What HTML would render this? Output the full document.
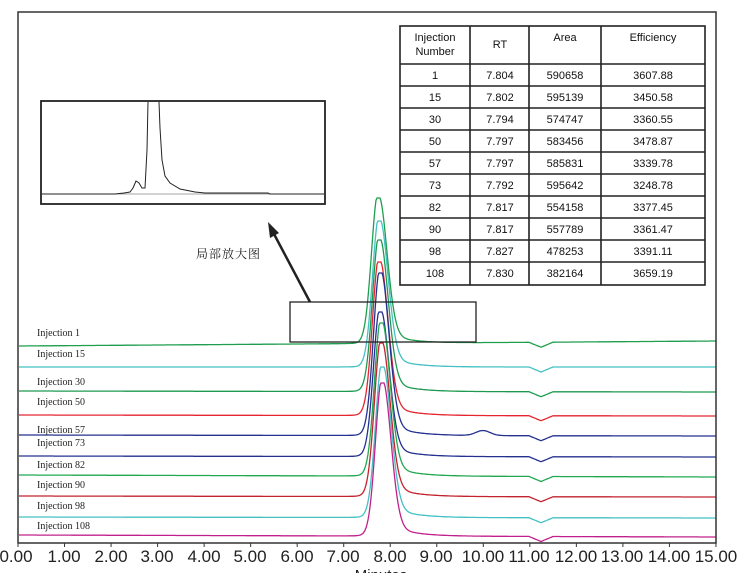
<!DOCTYPE html>
<html><head><meta charset="utf-8"><style>
html,body{margin:0;padding:0;background:#fff;width:747px;height:573px;overflow:hidden}
svg{display:block}
text{font-family:"Liberation Sans",Arial,sans-serif}
.lab{font-family:"Liberation Serif",serif;font-size:10px;fill:#222}
.tk{font-size:17px;fill:#222}
.tb{font-size:11px;fill:#111}
</style></head><body>
<svg id="s" width="747" height="573" viewBox="0 0 747 573" xmlns="http://www.w3.org/2000/svg">
<g id="traces"></g>
<path d="M18,12 H716 V543 H18 Z" fill="none" stroke="#333" stroke-width="1.5"/>
<g id="ticks"></g>
<text class="tk" x="16" y="562" text-anchor="middle">0.00</text>
<text class="tk" x="64" y="562" text-anchor="middle">1.00</text>
<text class="tk" x="111" y="562" text-anchor="middle">2.00</text>
<text class="tk" x="157" y="562" text-anchor="middle">3.00</text>
<text class="tk" x="204" y="562" text-anchor="middle">4.00</text>
<text class="tk" x="250" y="562" text-anchor="middle">5.00</text>
<text class="tk" x="297" y="562" text-anchor="middle">6.00</text>
<text class="tk" x="343" y="562" text-anchor="middle">7.00</text>
<text class="tk" x="390" y="562" text-anchor="middle">8.00</text>
<text class="tk" x="436" y="562" text-anchor="middle">9.00</text>
<text class="tk" x="483" y="562" text-anchor="middle">10.00</text>
<text class="tk" x="529" y="562" text-anchor="middle">11.00</text>
<text class="tk" x="576" y="562" text-anchor="middle">12.00</text>
<text class="tk" x="622" y="562" text-anchor="middle">13.00</text>
<text class="tk" x="669" y="562" text-anchor="middle">14.00</text>
<text class="tk" x="716" y="562" text-anchor="middle">15.00</text>
<text class="tk" x="381" y="580" text-anchor="middle" style="font-size:15px">Minutes</text>
<text class="lab" x="37" y="336">Injection 1</text>
<text class="lab" x="37" y="357">Injection 15</text>
<text class="lab" x="37" y="385">Injection 30</text>
<text class="lab" x="37" y="405">Injection 50</text>
<text class="lab" x="37" y="433">Injection 57</text>
<text class="lab" x="37" y="446">Injection 73</text>
<text class="lab" x="37" y="468">Injection 82</text>
<text class="lab" x="37" y="488">Injection 90</text>
<text class="lab" x="37" y="509">Injection 98</text>
<text class="lab" x="37" y="529">Injection 108</text>
<rect x="290" y="302" width="186" height="40" fill="none" stroke="#222" stroke-width="1.3"/>
<line x1="310" y1="302" x2="274" y2="234" stroke="#222" stroke-width="2.5"/>
<polygon points="268,222 270,238 279,233" fill="#222"/>
<text x="196" y="258" style="font-family:'Liberation Serif','Noto Serif CJK SC',serif;font-size:12px;letter-spacing:1px" fill="#222">局部放大图</text>
<rect x="41" y="101" width="284" height="103" fill="#fff" stroke="#222" stroke-width="1.8"/>
<line x1="42" y1="194" x2="324" y2="194" stroke="#888" stroke-width="0.8"/>
<path d="M42,194 H115 L124,193 L130,192 L133,188 L136,181 L139,183 L142,188 L145,188 L147,150 L148,102 M159,102 L160,128 L162,160 L165,176 L170,183 L180,189 L195,192 L205,193 L230,193 L268,193 L270,194 L324,194" fill="none" stroke="#222" stroke-width="1"/>
<g stroke="#222" stroke-width="1.6" fill="none">
<rect x="400" y="26" width="305" height="259" fill="#fff"/>
<line x1="470" y1="26" x2="470" y2="285"/><line x1="529" y1="26" x2="529" y2="285"/><line x1="601" y1="26" x2="601" y2="285"/>
<line x1="400" y1="64" x2="705" y2="64"/><line x1="400" y1="86" x2="705" y2="86"/><line x1="400" y1="108" x2="705" y2="108"/>
<line x1="400" y1="130" x2="705" y2="130"/><line x1="400" y1="152" x2="705" y2="152"/><line x1="400" y1="174" x2="705" y2="174"/>
<line x1="400" y1="196" x2="705" y2="196"/><line x1="400" y1="218" x2="705" y2="218"/><line x1="400" y1="240" x2="705" y2="240"/>
<line x1="400" y1="262" x2="705" y2="262"/>
</g>
<g class="tb" text-anchor="middle">
<text x="435" y="41">Injection</text><text x="435" y="55">Number</text>
<text x="500" y="48">RT</text><text x="565" y="41">Area</text><text x="653" y="41">Efficiency</text>
</g>
<g id="rows" class="tb" text-anchor="middle"></g>
</svg>
<script>
var data=[["1","7.804","590658","3607.88"],["15","7.802","595139","3450.58"],["30","7.794","574747","3360.55"],["50","7.797","583456","3478.87"],["57","7.797","585831","3339.78"],["73","7.792","595642","3248.78"],["82","7.817","554158","3377.45"],["90","7.817","557789","3361.47"],["98","7.827","478253","3391.11"],["108","7.830","382164","3659.19"]];
var rows=document.getElementById("rows"),h="";
data.forEach(function(r,i){var y=79+22*i;h+='<text x="435" y="'+y+'">'+r[0]+'</text><text x="500" y="'+y+'">'+r[1]+'</text><text x="565" y="'+y+'">'+r[2]+'</text><text x="653" y="'+y+'">'+r[3]+'</text>';});
rows.innerHTML=h;
var tr=[[346,341,198,"#1e9e4e",378],[367,367,221,"#44c0c4",379],[391,392,240,"#1e9a50",379],[415,416,262,"#e52630",379],[435,436,273,"#24318f",380],[456,457,312,"#24318f",380],[475,477,323,"#20a850",381],[496,497,343,"#c2232f",381],[517,518,367,"#44c0c4",382],[535,537,383,"#c0208c",382]];
var g=document.getElementById("traces"),s="";
tr.forEach(function(t,k){var d="";for(var x=19;x<=716;x+=1){var b=t[0]+(t[1]-t[0])*(x-19)/697;var H=b-t[2];var dx=x-t[4];var sg=dx<0?6.5:8.5;var f=Math.exp(-dx*dx/(2*sg*sg));if(dx>0)f+=0.10*(1-Math.exp(-dx/5))*Math.exp(-dx/22);if(dx<0)f+=0.04*Math.exp(dx/8);var y=b-H*Math.min(f,1);var dd=Math.abs(x-541);if(dd<12)y+=5*(1-dd/12);if(k==4){y-=5*Math.exp(-Math.pow((x-483)/10,2));}d+=(x==19?"M":"L")+x+","+y.toFixed(1);}s+='<path d="'+d+'" fill="none" stroke="'+t[3]+'" stroke-width="1.3"/>';});
g.innerHTML=s;
var tk="";for(var i=0;i<=15;i++){var x=18+i*46.53;tk+='<line x1="'+x+'" y1="543" x2="'+x+'" y2="547" stroke="#333"/>';}
document.getElementById("ticks").innerHTML=tk;
</script>
</body></html>
